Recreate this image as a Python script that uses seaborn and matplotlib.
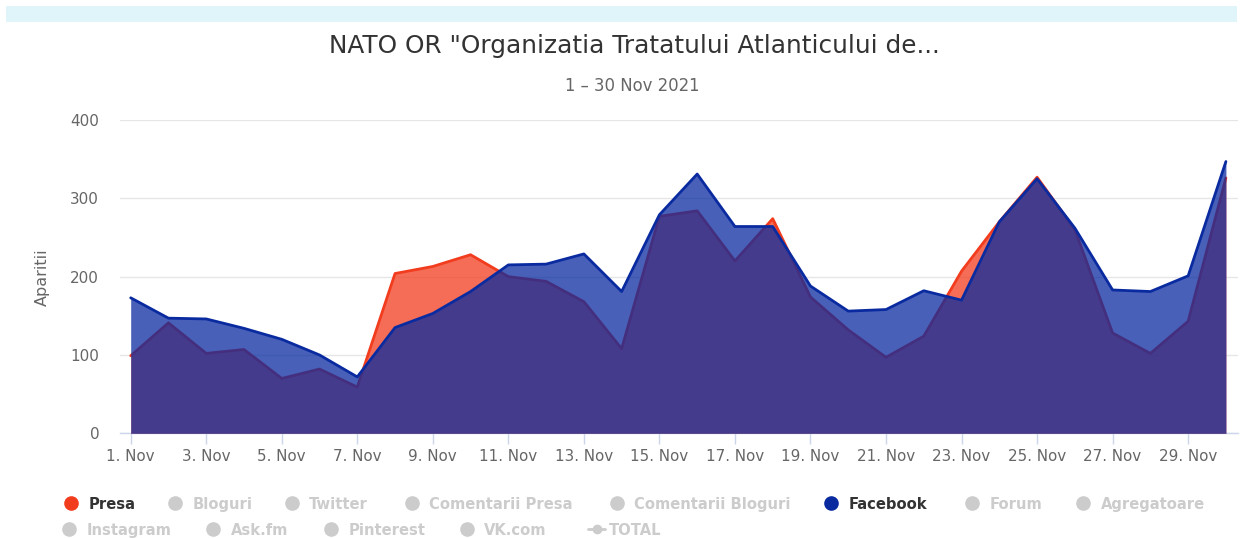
import matplotlib
matplotlib.use("Agg")
import matplotlib.pyplot as plt
import seaborn as sns
import pandas as pd
from matplotlib.patches import Rectangle
from matplotlib.lines import Line2D

# ---------------- data ----------------
days = list(range(1, 31))
presa = [99, 141, 102, 107, 70, 82, 59, 204, 213, 228, 200, 194, 168, 108, 277,
         284, 220, 274, 174, 132, 97, 124, 207, 270, 327, 260, 128, 102, 143, 326]
facebook = [173, 147, 146, 134, 120, 100, 72, 135, 153, 181, 215, 216, 229, 181, 279,
            331, 264, 264, 188, 156, 158, 182, 170, 270, 325, 262, 183, 181, 201, 347]
tick_days = list(range(1, 30, 2))
tick_labels = [f"{d}. Nov" for d in tick_days]
y_ticks = [0, 100, 200, 300, 400]
title = 'NATO OR "Organizatia Tratatului Atlanticului de...'
subtitle = "1 \u2013 30 Nov 2021"
y_label = "Aparitii"
legend_row1 = ["Presa", "Bloguri", "Twitter", "Comentarii Presa",
               "Comentarii Bloguri", "Facebook", "Forum", "Agregatoare"]
legend_row2 = ["Instagram", "Ask.fm", "Pinterest", "VK.com", "TOTAL"]
active_series = {"Presa": "#f23c1e", "Facebook": "#0a2ba0"}

# ---------------- style ----------------
sns.set_theme(style="white")
plt.rcParams["font.family"] = ["DejaVu Sans"]

W, H = 1241, 538
fig = plt.figure(figsize=(W / 100, H / 100), dpi=100)
fig.patch.set_facecolor("white")

# top light band
fig.add_artist(Rectangle((6 / W, 1 - 22 / H), (1237 - 6) / W, 16 / H,
                         transform=fig.transFigure, facecolor="#dff5fa",
                         edgecolor="none"))

ax_left, ax_right = 120, 1238
ax_bottom, ax_top = 433.3, 120
ax = fig.add_axes([ax_left / W, 1 - ax_bottom / H, (ax_right - ax_left) / W,
                   (ax_bottom - ax_top) / H])

df = pd.DataFrame({"day": days, "Presa": presa, "Facebook": facebook})

red = active_series["Presa"]
blue = active_series["Facebook"]

ax.fill_between(df["day"], 0, df["Presa"], color=red, alpha=0.75, lw=0, zorder=2)
sns.lineplot(data=df, x="day", y="Presa", color=red, lw=2, ax=ax, legend=False,
             zorder=3, solid_joinstyle="round")
ax.fill_between(df["day"], 0, df["Facebook"], color=blue, alpha=0.75, lw=0, zorder=4)
sns.lineplot(data=df, x="day", y="Facebook", color=blue, lw=2, ax=ax, legend=False,
             zorder=5, solid_joinstyle="round")

ax.set_xlim(0.717, 30.32)
ax.set_ylim(0, 400)
ax.set_yticks(y_ticks)
ax.set_yticklabels([str(v) for v in y_ticks])
ax.set_xticks(tick_days)
ax.set_xticklabels(tick_labels)

ax.grid(axis="y", color="#e6e6e6", lw=1)
ax.grid(axis="x", visible=False)
ax.set_axisbelow(True)
for s in ["top", "right", "left"]:
    ax.spines[s].set_visible(False)
ax.spines["bottom"].set_color("#ccd6eb")
ax.spines["bottom"].set_linewidth(1)
ax.spines["bottom"].set_zorder(1)

ax.tick_params(axis="x", length=8, width=1, color="#ccd6eb", direction="out",
               labelsize=10.9, labelcolor="#666666", pad=3, bottom=True)
ax.tick_params(axis="y", length=0, labelsize=10.9, labelcolor="#666666", pad=15)

ax.set_xlabel("")
ax.set_ylabel(y_label, fontsize=11.5, color="#666666")
ax.yaxis.set_label_coords((50 - ax_left) / (ax_right - ax_left),
                          (ax_bottom - 277.5) / (ax_bottom - ax_top))

# titles
fig.text(634 / W, 1 - 46.5 / H, title, ha="center", va="center",
         fontsize=17.8, color="#333333")
fig.text(632.5 / W, 1 - 86 / H, subtitle, ha="center", va="center",
         fontsize=11.9, color="#666666")

# legend (manual, two rows)
row1_x = [70.7, 175, 291.7, 411.7, 616.7, 830.7, 971.7, 1083.3]
row2_x = [69.3, 213.3, 331, 466.7, 596.7]
rows = [(legend_row1, row1_x, 502.5), (legend_row2, row2_x, 528.5)]
for names, xs, yy in rows:
    for name, xm in zip(names, xs):
        active = name in active_series
        mcol = active_series.get(name, "#cccccc")
        tcol = "#333333" if active else "#cccccc"
        if name == "TOTAL":
            fig.add_artist(Line2D([(xm - 9) / W, (xm + 8) / W],
                                  [1 - yy / H, 1 - yy / H],
                                  transform=fig.transFigure, color=mcol, lw=2))
            fig.add_artist(Line2D([xm / W], [1 - yy / H], transform=fig.transFigure,
                                  marker="o", markersize=6, color=mcol, lw=0))
            tx = xm + 12
        else:
            fig.add_artist(Line2D([xm / W], [1 - yy / H], transform=fig.transFigure,
                                  marker="o", markersize=9.5, color=mcol, lw=0))
            tx = xm + 17.5
        fig.text(tx / W, 1 - (yy + 6.5) / H, name, ha="left", va="baseline",
                 fontsize=10.6, fontweight="bold", color=tcol)

fig.savefig("out.png", dpi=100, facecolor="white")
